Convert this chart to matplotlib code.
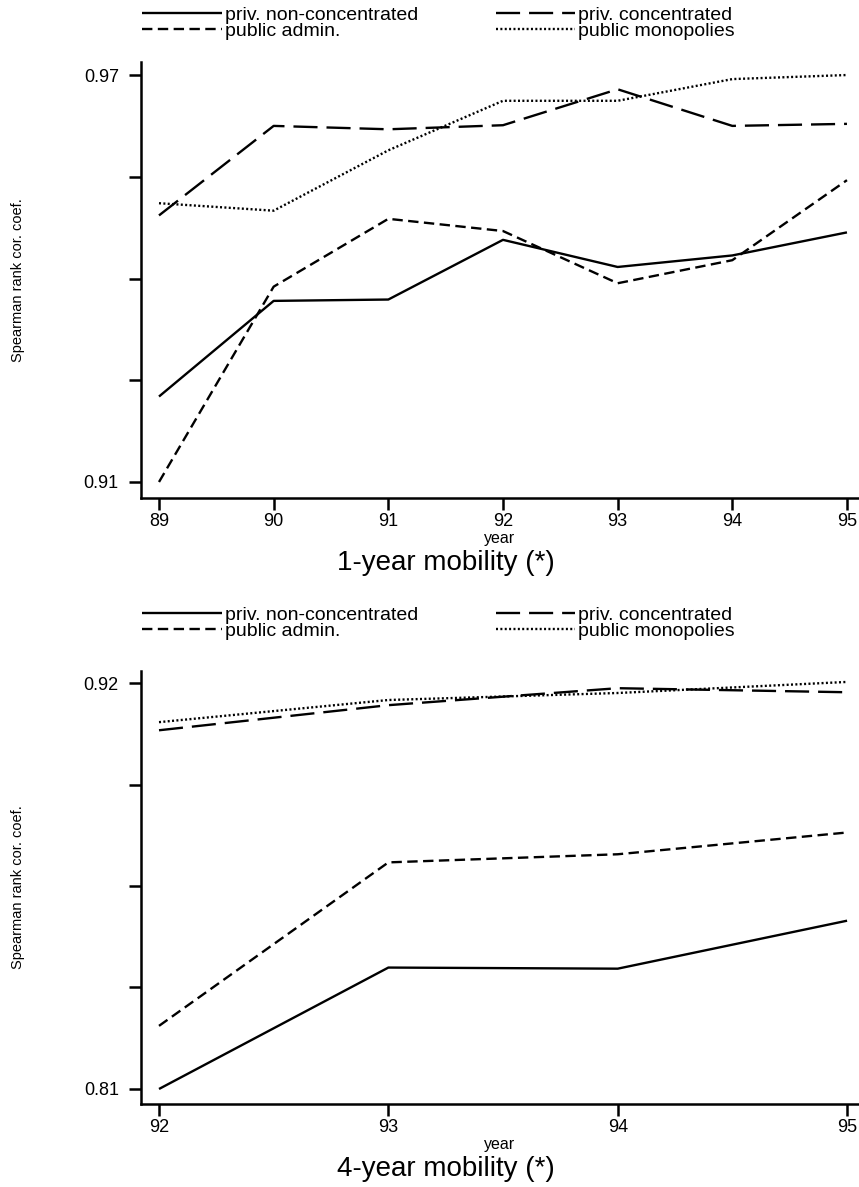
import matplotlib
matplotlib.use("Agg")
import matplotlib.pyplot as plt

plt.rcParams['font.family'] = ['Liberation Sans', 'DejaVu Sans']

# ---- data ----
years_1 = [89, 90, 91, 92, 93, 94, 95]
priv_nonconc_1 = [0.9226, 0.9367, 0.9369, 0.9457, 0.9417, 0.9434, 0.9468]
priv_conc_1 = [0.9493, 0.9625, 0.9620, 0.9626, 0.9679, 0.9625, 0.9628]
public_admin_1 = [0.9100, 0.9388, 0.9488, 0.9470, 0.9393, 0.9427, 0.9545]
public_mono_1 = [0.9511, 0.9500, 0.9589, 0.9662, 0.9662, 0.9694, 0.9700]

years_4 = [92, 93, 94, 95]
priv_nonconc_4 = [0.8100, 0.8429, 0.8426, 0.8556]
priv_conc_4 = [0.9072, 0.9140, 0.9186, 0.9175]
public_admin_4 = [0.8271, 0.8714, 0.8736, 0.8795]
public_mono_4 = [0.9094, 0.9154, 0.9173, 0.9203]

series_names = ["priv. non-concentrated", "priv. concentrated",
                "public admin.", "public monopolies"]
yticks_1 = [0.91, 0.925, 0.94, 0.955, 0.97]
yticklabels_1 = ["0.91", "", "", "", "0.97"]
yticks_4 = [0.81, 0.8375, 0.865, 0.8925, 0.92]
yticklabels_4 = ["0.81", "", "", "", "0.92"]
titles = ["1-year mobility (*)", "4-year mobility (*)"]

W, H = 859, 1187
DPI = 100
fig = plt.figure(figsize=(W / DPI, H / DPI), dpi=DPI)

lw = 1.7
styles = [
    dict(linestyle='-'),
    dict(linestyle=(0, (10.2, 3.8))),
    dict(linestyle=(0, (4.4, 2.3))),
    dict(linestyle=(0, (0.85, 1.0))),
]

def px_axes(left, top, right, bottom):
    return fig.add_axes([left / W, 1 - bottom / H, (right - left) / W, (bottom - top) / H])

def make_panel(top, bottom, years, data, xlim, ylim, yticks, yticklabels, title, leg_top):
    ax = px_axes(141, top, 859, bottom)
    hgt = bottom - top
    handles = []
    for vals, st, name in zip(data, styles, series_names):
        h, = ax.plot(years, vals, color='black', lw=lw, label=name,
                     solid_capstyle='butt', dash_capstyle='butt', **st)
        handles.append(h)
    ax.set_xlim(*xlim)
    ax.set_ylim(*ylim)
    ax.set_xticks(years)
    ax.set_xticklabels([str(y) for y in years])
    ax.set_yticks(yticks)
    ax.set_yticklabels(yticklabels)
    for s in ['top', 'right']:
        ax.spines[s].set_visible(False)
    for s in ['left', 'bottom']:
        ax.spines[s].set_linewidth(1.8)
    ax.tick_params(axis='both', direction='out', length=8.5, width=1.8, labelsize=13)
    ax.tick_params(axis='x', pad=2)
    ax.tick_params(axis='y', pad=7.5)
    ax.set_ylabel("Spearman rank cor. coef.", fontsize=10.5)
    ax.yaxis.set_label_coords(-(141 - 25) / (859 - 141), 0.5)
    ax.set_xlabel("year", fontsize=11.5)
    ax.xaxis.set_label_coords(0.5, -33 / hgt)
    fig.text(446 / W, 1 - (bottom + 65) / H, title, fontsize=20,
             ha='center', va='center')
    order = [0, 2, 1, 3]
    fig.legend([handles[i] for i in order], [series_names[i] for i in order],
               ncol=2, loc='upper left',
               bbox_to_anchor=(142 / W, 1 - leg_top / H),
               frameon=False, fontsize=14, handlelength=4.1,
               handletextpad=0.15, columnspacing=4.0, labelspacing=-0.08,
               borderpad=0, borderaxespad=0)
    return ax

make_panel(62, 498, years_1, [priv_nonconc_1, priv_conc_1, public_admin_1, public_mono_1],
           (88.843, 95.105), (0.90764, 0.97192), yticks_1, yticklabels_1, titles[0], 6)
make_panel(671, 1104, years_4, [priv_nonconc_4, priv_conc_4, public_admin_4, public_mono_4],
           (91.9215, 95.052), (0.80593, 0.92326), yticks_4, yticklabels_4, titles[1], 606)

fig.savefig("out.png", dpi=DPI)
